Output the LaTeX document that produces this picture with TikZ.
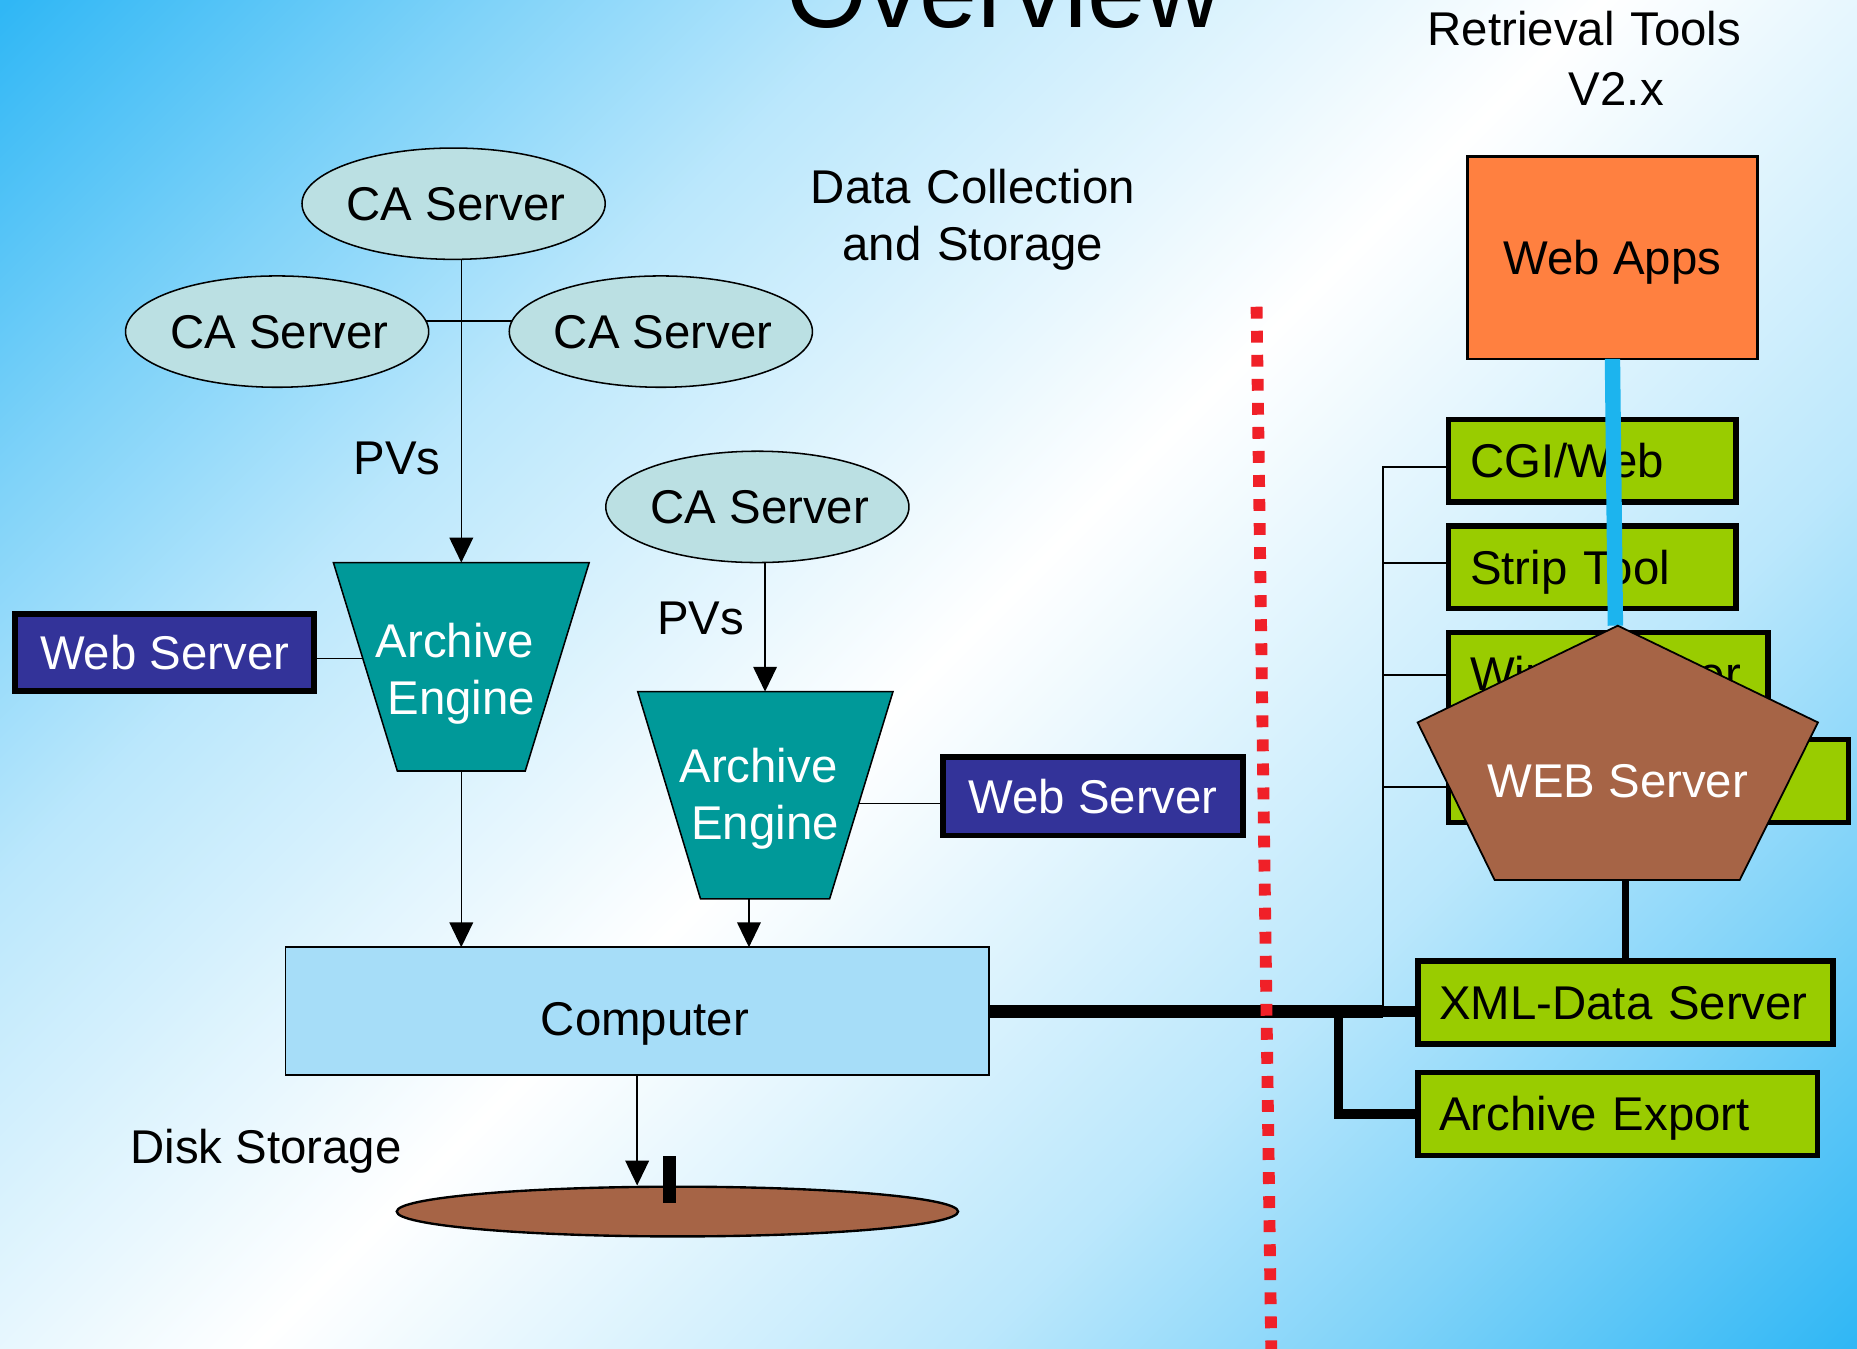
\documentclass[tikz,border=0pt]{standalone}
\usepackage{fontspec}
\setmainfont{Liberation Sans}
\usetikzlibrary{arrows.meta,shapes.geometric,calc}
\definecolor{bgb}{RGB}{48,183,245}
\colorlet{bgmA}{bgb!33!white}
\colorlet{bgmB}{bgb!62!white}
\definecolor{cafill}{RGB}{187,224,227}
\definecolor{teal99}{RGB}{0,153,153}
\definecolor{wsblue}{RGB}{51,51,153}
\definecolor{gfill}{RGB}{153,204,0}
\definecolor{compfill}{RGB}{166,221,248}
\definecolor{orangef}{RGB}{255,128,64}
\definecolor{brownf}{RGB}{166,100,70}
\definecolor{bluel}{RGB}{28,180,238}
\definecolor{redd}{RGB}{240,32,40}
\pgfdeclareverticalshading{bgshade}{100bp}{color(0bp)=(bgb); color(26.07bp)=(bgb); color(33.25bp)=(bgmB); color(39.23bp)=(bgmA); color(50bp)=(white); color(60.77bp)=(bgmA); color(66.75bp)=(bgmB); color(73.93bp)=(bgb); color(100bp)=(bgb)}
\tikzset{
  basefont/.style={font=\fontsize{40}{48}\selectfont},
  boxtxt/.style={basefont, inner sep=0pt, outer sep=0pt, text height=28.6pt, text depth=0pt},
  caell/.style={boxtxt, ellipse, draw=black, line width=1.3pt, fill=cafill, minimum width=256pt, minimum height=94pt},
  wsbox/.style={boxtxt, rectangle, draw=black, line width=5pt, fill=wsblue, text=white, minimum width=253pt, minimum height=65.5pt},
  gbox/.style={boxtxt, rectangle, draw=black, line width=4.5pt, fill=gfill, minimum height=70pt, inner xsep=18pt, text width=#1, align=left},
  lbl/.style={basefont, inner sep=0pt, anchor=base},
  mlbl/.style={basefont, inner sep=0pt, anchor=base, text width=400pt, align=center},
  aeshape/.style={draw=black, line width=1.3pt, fill=teal99},
  aetext/.style={mlbl, text=white, text width=200pt, font=\fontsize{40}{48.5}\selectfont},
  pentshape/.style={draw=black, line width=1.5pt, fill=brownf},
  arr/.style={line width=1.2pt, -{Triangle[length=21pt,width=20pt]}},
  thinln/.style={line width=1.5pt},
  bigline/.style={line width=11pt},
  reddash/.style={line width=10pt, draw=redd, dash pattern=on 10pt off 10.3pt},
}
\begin{document}
\begin{tikzpicture}[x=1pt,y=-1pt]
\useasboundingbox (0,0) rectangle (1568,1139);
\clip (0,0) rectangle (1568,1139);
\shade[shading=bgshade, shading angle=45] (-216,-430.5) rectangle (1784,1569.5);

% titles and labels
\node[lbl, font=\fontsize{88}{100}\selectfont] (title) at (847.5,23) {Overview};
\node[mlbl] (dcs) at (821.5,171.7) {Data Collection\\and Storage};
\node[mlbl, font=\fontsize{40}{50}\selectfont] (rtools) at (1337.8,38.8) {Retrieval Tools\\\hspace*{54pt}V2.x};
\node[lbl] (pv1) at (335.2,400.4) {PVs};
\node[lbl] (pv2) at (591.7,536.1) {PVs};
\node[lbl] (dsk) at (224.5,982) {Disk Storage};

% archive engine shapes
\coordinate (ae1tl) at (281.5,475);
\coordinate (ae1tr) at (497.5,475);
\coordinate (ae1br) at (443.5,651);
\coordinate (ae1bl) at (335.5,651);
\coordinate (ae1t) at (389.5,475);
\coordinate (ae1b) at (389.5,651);
\coordinate (ae1w) at ($(ae1tl)!0.46!(ae1bl)$);
\coordinate (ae2tl) at (538.5,584);
\coordinate (ae2tr) at (754,584);
\coordinate (ae2br) at (700.5,759);
\coordinate (ae2bl) at (591.5,759);
\coordinate (ae2t) at (646,584);
\coordinate (ae2b) at (632.4,759);
\coordinate (ae2e) at ($(ae2tr)!0.54!(ae2br)$);

% CA servers
\node[caell] (ca1) at (383,172) {\makebox[0pt]{\hspace*{4pt}CA Server}};
\node[caell] (ca2) at (234,280) {\makebox[0pt]{\hspace*{4pt}CA Server}};
\node[caell] (ca3) at (558,280) {\makebox[0pt]{\hspace*{4pt}CA Server}};
\node[caell] (ca4) at (639.5,428) {\makebox[0pt]{\hspace*{4pt}CA Server}};
\draw[thinln] (ca2.4) -- (ca3.176);
\draw[arr] (ae1t |- ca1.south) -- (ae1t);
\draw[arr] (ae2t |- ca4.south) -- (ae2t);

\node[boxtxt, rectangle, draw=black, line width=1.5pt, fill=compfill, minimum width=594pt, minimum height=108pt, text height=41.6pt] (comp) at (538,853.8) {\hspace*{13pt}Computer};
\draw[arr] (ae1b) -- (ae1b |- comp.north);
\draw[arr] (ae2b) -- (ae2b |- comp.north);

\draw[aeshape] (ae1tl) -- (ae1tr) -- (ae1br) -- (ae1bl) -- cycle;
\node[aetext] (ae1) at (389.5,555) {Archive\makebox[11pt]{}\\Engine};
\draw[aeshape] (ae2tl) -- (ae2tr) -- (ae2br) -- (ae2bl) -- cycle;
\node[aetext] (ae2) at (646,660.3) {Archive\makebox[11pt]{}\\Engine};

\node[wsbox] (ws1) at (139,551) {Web Server};
\node[wsbox, minimum height=66pt] (ws2) at (923,672.5) {Web Server};
\draw[thinln] (ws1.east |- ae1w) -- (ae1w);
\draw[thinln] (ae2e) -- (ae2e -| ws2.west);

% disk
\node[ellipse, draw=black, line width=2pt, fill=brownf, minimum width=474pt, minimum height=42pt, inner sep=0pt] (disk) at (572,1023) {};
\node[fill=black, inner sep=0pt, minimum width=11pt, minimum height=40pt] (bar) at (565.5,996) {};
\draw[arr] (comp.south) -- (comp.south |- disk.north);

% right side
\node[boxtxt, rectangle, draw=black, line width=2pt, fill=orangef, minimum width=245pt, minimum height=171pt] (webapps) at (1361.5,217.5) {Web Apps};

\node[gbox=206.5pt] (cgi) at (1344.5,389) {CGI/Web};
\node[gbox=206.5pt] (strip) at (1344.5,479) {Strip Tool};
\node[gbox=233.5pt] (winb) at (1358,569) {Win Browser};
\node[gbox=301.5pt] (box4) at (1392,659.5) {};
\node[gbox=314.5pt] (xml) at (1372.5,846.5) {XML-Data Server};
\node[gbox=301.5pt] (export) at (1366,940.5) {Archive Export};

\coordinate (busx) at (1168,0);
\coordinate (expx) at (1130,0);
\draw[thinln] (comp.east -| busx) |- ([yshift=-5.5pt]cgi.west);
\draw[thinln] (comp.east -| busx) |- ([yshift=3.5pt]strip.west);
\draw[thinln] (comp.east -| busx) |- ([yshift=-1pt]winb.west);
\draw[thinln] (comp.east -| busx) |- ([yshift=-5pt]box4.west);
\draw[bigline] (comp.east) -- (comp.east -| busx);
\draw[line width=9.5pt] (comp.east -| busx) -- (comp.east -| xml.west);
\draw[line width=8pt] (comp.east -| expx) |- (export.west);

% red boundary
\coordinate (rtop) at (1061,259);
\coordinate (rbot) at (1073.5,1145);
\draw[reddash] (rtop) -- (rbot);

% web server pentagon
\coordinate (ptop) at (1366,528.3);
\coordinate (pl) at (1197,610);
\coordinate (pr) at (1535,610);
\coordinate (pbr) at (1469,743);
\coordinate (pbl) at (1262,743);
\draw[line width=13pt, draw=bluel] (webapps.south) -- ([xshift=-2pt]ptop);
\draw[pentshape] (ptop) -- (pr) -- (pbr) -- (pbl) -- (pl) -- cycle;
\node[boxtxt, text=white] (websrv) at (1366,659) {WEB Server};
\draw[line width=6pt] (xml.north |- pbl) -- (xml.north);
\end{tikzpicture}
\end{document}
